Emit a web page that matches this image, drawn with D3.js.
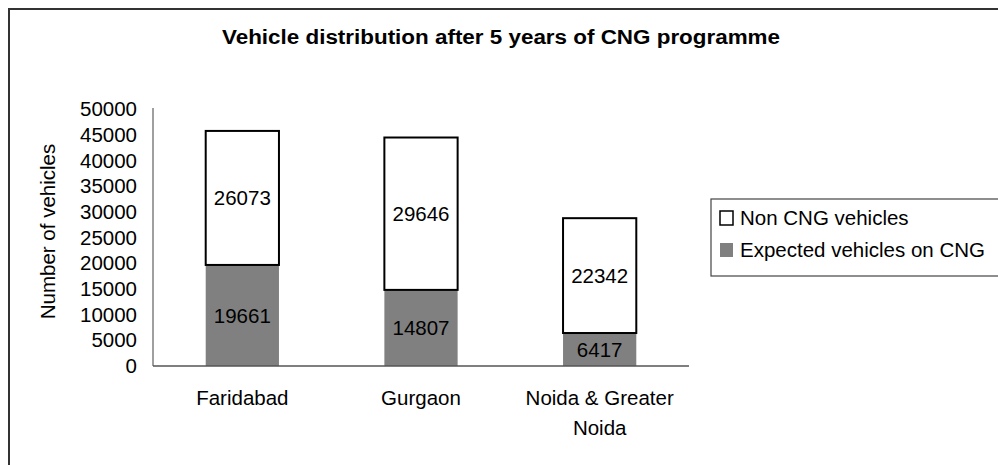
<!DOCTYPE html>
<html lang="en">
<head>
<meta charset="UTF-8">
<title>Vehicle distribution after 5 years of CNG programme</title>
<script src="https://d3js.org/d3.v7.min.js"></script>
<style>
    body { margin: 0; background: #ffffff; font-family: 'Liberation Sans', Arial, sans-serif; }
    svg { display: block; }
    text { fill: #000; }
</style>
</head>
<body>
<svg id="chart"></svg>
<script>
    const cities = ["Faridabad", "Gurgaon", "Noida & Greater Noida"];
    const cityLines = [["Faridabad"], ["Gurgaon"], ["Noida & Greater", "Noida"]];
    const cngVehicles = [19661, 14807, 6417];
    const nonCngVehicles = [26073, 29646, 22342];
    const yTicks = [0, 5000, 10000, 15000, 20000, 25000, 30000, 35000, 40000, 45000, 50000];

    const width = 998, height = 465;
    const plot = { left: 153, right: 689, top: 109, bottom: 366 };
    const fs = 20.5;

    const svg = d3.select("#chart").attr("width", width).attr("height", height);

    // outer frame (runs off the right and bottom edges)
    svg.append("rect")
        .attr("x", 9).attr("y", 9)
        .attr("width", width + 20).attr("height", height + 20)
        .attr("fill", "none").attr("stroke", "#333").attr("stroke-width", 2);

    svg.append("text")
        .attr("x", 501).attr("y", 44)
        .attr("text-anchor", "middle")
        .attr("font-size", 19.5).attr("font-weight", "bold")
        .attr("textLength", 558).attr("lengthAdjust", "spacingAndGlyphs")
        .text("Vehicle distribution after 5 years of CNG programme");

    const x = d3.scaleBand().domain(cities).range([plot.left, plot.right]).paddingInner(0.59).paddingOuter(0.295);
    const y = d3.scaleLinear().domain([0, 50000]).range([plot.bottom, plot.top]);

    // y tick labels
    svg.append("g").selectAll("text")
        .data(yTicks).enter().append("text")
        .attr("x", 137).attr("y", d => y(d))
        .attr("dy", "0.35em")
        .attr("text-anchor", "end")
        .attr("font-size", fs)
        .text(d => d);

    svg.append("text")
        .attr("transform", `translate(55, ${(plot.top + plot.bottom) / 2 - 6}) rotate(-90)`)
        .attr("text-anchor", "middle")
        .attr("font-size", fs)
        .text("Number of vehicles");

    const stack = cities.map((c, i) => ({ city: c, cng: cngVehicles[i], non: nonCngVehicles[i] }));

    const g = svg.append("g");
    g.selectAll("rect.cng").data(stack).enter().append("rect")
        .attr("class", "cng")
        .attr("x", d => x(d.city)).attr("width", x.bandwidth())
        .attr("y", d => y(d.cng)).attr("height", d => y(0) - y(d.cng))
        .attr("fill", "#808080");

    g.selectAll("rect.non").data(stack).enter().append("rect")
        .attr("class", "non")
        .attr("x", d => x(d.city)).attr("width", x.bandwidth())
        .attr("y", d => y(d.cng + d.non)).attr("height", d => y(d.cng) - y(d.cng + d.non))
        .attr("fill", "#fff").attr("stroke", "#000").attr("stroke-width", 2);

    g.selectAll("text.cnglab").data(stack).enter().append("text")
        .attr("x", d => x(d.city) + x.bandwidth() / 2)
        .attr("y", d => y(d.cng / 2)).attr("dy", "0.35em")
        .attr("text-anchor", "middle").attr("font-size", fs)
        .text(d => d.cng);

    g.selectAll("text.nonlab").data(stack).enter().append("text")
        .attr("x", d => x(d.city) + x.bandwidth() / 2)
        .attr("y", d => y(d.cng + d.non / 2)).attr("dy", "0.35em")
        .attr("text-anchor", "middle").attr("font-size", fs)
        .text(d => d.non);

    // axes lines
    svg.append("line")
        .attr("x1", plot.left).attr("x2", plot.left)
        .attr("y1", plot.top - 1).attr("y2", plot.bottom)
        .attr("stroke", "#7f7f7f").attr("stroke-width", 1.5);
    svg.append("line")
        .attr("x1", plot.left).attr("x2", plot.right)
        .attr("y1", plot.bottom).attr("y2", plot.bottom)
        .attr("stroke", "#555").attr("stroke-width", 1.5);

    // x labels
    const xl = svg.append("g").selectAll("text")
        .data(cities).enter().append("text")
        .attr("x", d => x(d) + x.bandwidth() / 2)
        .attr("y", 405)
        .attr("text-anchor", "middle").attr("font-size", fs);
    xl.selectAll("tspan")
        .data((d, i) => cityLines[i]).enter().append("tspan")
        .attr("x", function () { return this.parentNode.getAttribute("x"); })
        .attr("dy", (d, i) => i === 0 ? 0 : 30)
        .text(d => d);

    // legend
    const legend = svg.append("g");
    legend.append("rect")
        .attr("x", 711).attr("y", 199)
        .attr("width", 300).attr("height", 77)
        .attr("fill", "#fff").attr("stroke", "#444").attr("stroke-width", 1.2);
    const legendItems = [
        { label: "Non CNG vehicles", fill: "#fff", stroke: "#000" },
        { label: "Expected vehicles on CNG", fill: "#808080", stroke: "none" }
    ];
    legendItems.forEach((item, i) => {
        const cy = 218 + i * 32;
        legend.append("rect")
            .attr("x", 720).attr("y", cy - 7)
            .attr("width", 13).attr("height", 14)
            .attr("fill", item.fill).attr("stroke", item.stroke).attr("stroke-width", 1.5);
        legend.append("text")
            .attr("x", 740).attr("y", cy).attr("dy", "0.35em")
            .attr("font-size", fs)
            .text(item.label);
    });
</script>
</body>
</html>
